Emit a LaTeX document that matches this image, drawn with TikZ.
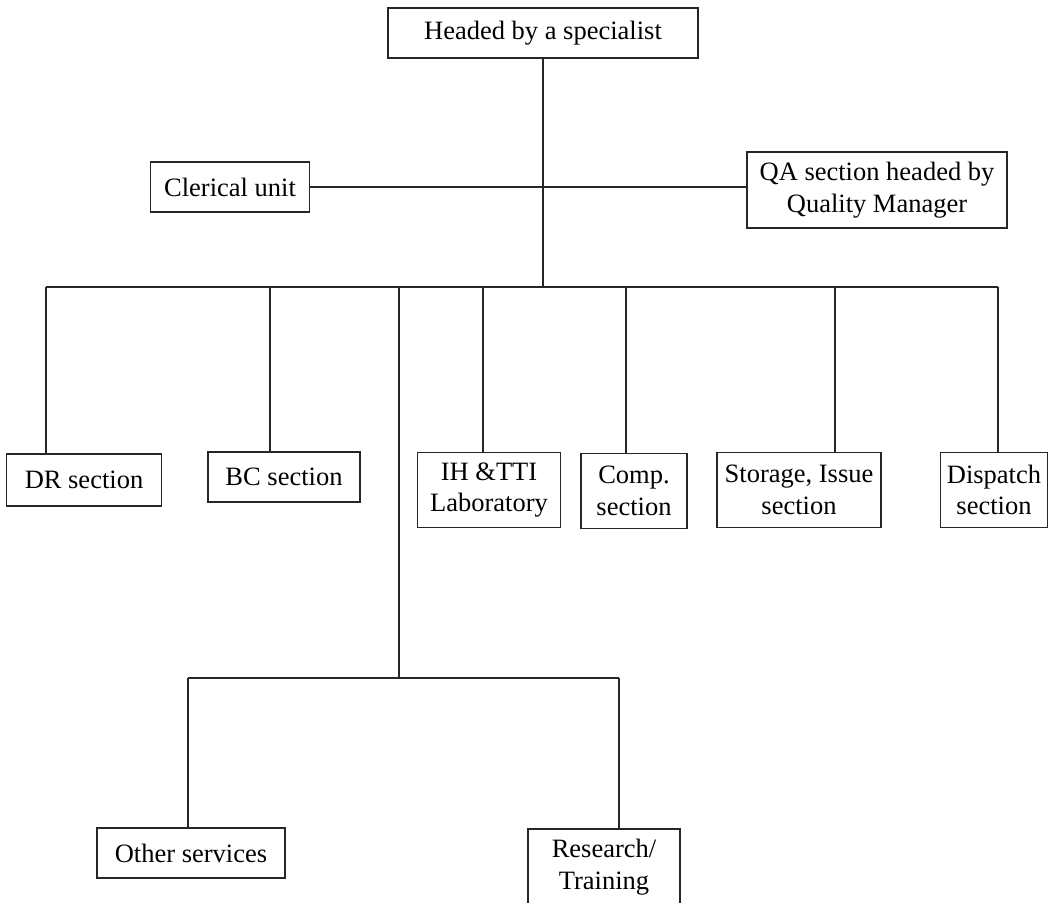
\documentclass[tikz,border=0pt]{standalone}
\usepackage{fontspec}
\setmainfont{Liberation Serif}
\usetikzlibrary{positioning}

\begin{document}
\begin{tikzpicture}[
		x=1pt, y=-1pt,
		% Styles
		unit/.style={rectangle, draw=black!85, line width=1.6pt, fill=white, inner sep=0pt, align=center, font=\fontsize{26.5}{31.5}\selectfont},
		wide_unit/.style={unit, minimum height=50},
		tall_unit/.style={unit, minimum height=75},
		link/.style={draw=black!85, line width=1.4pt}
	]
	\useasboundingbox (0,0) rectangle (1059,902);

	% --- Head and staff units ---
	\node[wide_unit, minimum width=310] (head) at (543,33) {Headed by a specialist};
	\node[wide_unit, minimum width=159] (clerical) at (230,187) {Clerical unit};
	\node[tall_unit, minimum width=260, minimum height=76] (qa) at (877,190) {QA section headed by\\Quality Manager};

	% --- Sections ---
	\node[wide_unit, minimum width=155, minimum height=52] (dr) at (84,480) {DR section};
	\node[wide_unit, minimum width=152] (bc) at (284,477) {BC section};
	\node[tall_unit, minimum width=143] (ih) at (489,490) {IH \&TTI\\Laboratory};
	\node[tall_unit, minimum width=106] (comp) at (634,491) {Comp.\\section};
	\node[tall_unit, minimum width=164] (storage) at (799,490) {Storage, Issue\\section};
	\node[tall_unit, minimum width=107] (dispatch) at (994,490) {Dispatch\\section};

	% --- Other services branch ---
	\node[wide_unit, minimum width=188] (other) at (191,853) {Other services};
	\node[tall_unit, minimum width=152, minimum height=76] (research) at (604,867) {Research/\\Training};

	% --- Junction points ---
	\coordinate (hub) at (543,287);
	\coordinate (drop_dr) at (46,287);
	\coordinate (drop_bc) at (270,287);
	\coordinate (drop_sub) at (399,287);
	\coordinate (drop_ih) at (483,287);
	\coordinate (drop_comp) at (626,287);
	\coordinate (drop_storage) at (835,287);
	\coordinate (drop_dispatch) at (998,287);
	\coordinate (sub_hub) at (399,678);
	\coordinate (sub_left) at (188,678);
	\coordinate (sub_right) at (619,678);

	% --- LINES ---
	% Head to staff units
	\draw[link] (head.south) -- (hub);
	\draw[link] (clerical.east) -- (clerical.east -| qa.west);

	% Main bus and drops
	\draw[link] (drop_dr) -- (drop_dispatch);
	\draw[link] (drop_dr) -- (drop_dr |- dr.north);
	\draw[link] (drop_bc) -- (drop_bc |- bc.north);
	\draw[link] (drop_ih) -- (drop_ih |- ih.north);
	\draw[link] (drop_comp) -- (drop_comp |- comp.north);
	\draw[link] (drop_storage) -- (drop_storage |- storage.north);
	\draw[link] (drop_dispatch) -- (drop_dispatch |- dispatch.north);

	% Other services branch
	\draw[link] (drop_sub) -- (sub_hub);
	\draw[link] (sub_left) -- (sub_right);
	\draw[link] (sub_left) -- (sub_left |- other.north);
	\draw[link] (sub_right) -- (sub_right |- research.north);

\end{tikzpicture}
\end{document}
